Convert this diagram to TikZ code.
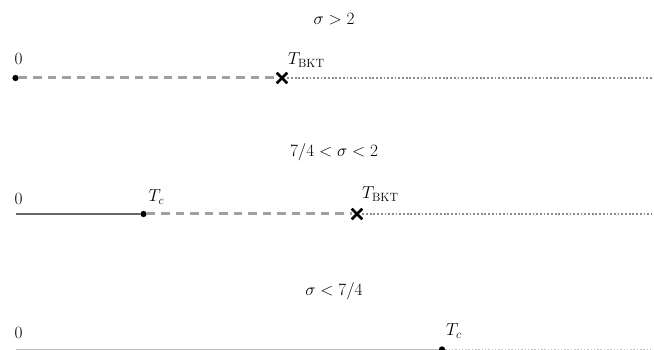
\documentclass[tikz,border=0pt]{standalone}
\usepackage{tikz}
\usepackage{amsmath}
\usetikzlibrary{positioning, shapes.misc}
\definecolor{ordgray}{HTML}{666666}
\definecolor{qlrogray}{HTML}{A0A0A0}
\definecolor{disgray}{HTML}{8C8C8C}
\definecolor{faintgray}{HTML}{BDBDBD}

\begin{document}
\begin{tikzpicture}[x=1pt, y=-1pt,
  tdot/.style={circle, fill=black, inner sep=0pt, minimum size=6.3pt},
  bkt/.style={cross out, draw=black, line width=2.6pt, inner sep=0pt,
    minimum size=8pt},
  lbl/.style={font=\LARGE, inner sep=0pt},
  head/.style={font=\LARGE, inner sep=0pt},
  ordered/.style={ordgray, line width=2.4pt},
  qlro/.style={qlrogray, line width=3pt, dash pattern=on 8.5pt off 6pt},
  disord/.style={disgray, line width=2.4pt, dash pattern=on 1.8pt off 1.9pt},
  faint/.style={faintgray, line width=1.4pt},
  faintdot/.style={faintgray, line width=1pt, dash pattern=on 1.5pt off 1.8pt}
]
\useasboundingbox (0,0) rectangle (654,350);

% ---- sigma > 2 ----
\node[head] (head1) at (334,19) {$\sigma > 2$};
\node[tdot] (start1) at (15.5,78) {};
\node[bkt] (bkt1) at (282,78) {};
\coordinate (end1) at (652,78);
\node[lbl, above right=13pt and -1pt of start1.center, anchor=base west] (zero1) {$0$};
\node[lbl, above right=13pt and 6pt of bkt1.center, anchor=base west] (tbkt1) {$T_{\mathrm{BKT}}$};

\draw[qlro] (start1) -- (bkt1);
\draw[disord] (bkt1) -- (end1);

% ---- 7/4 < sigma < 2 ----
\node[head] (head2) at (334,152) {$7/4 < \sigma < 2$};
\coordinate (start2) at (15.5,214);
\node[tdot] (tc2) at (143.5,214) {};
\node[bkt] (bkt2) at (357,214) {};
\coordinate (end2) at (652,214);
\node[lbl, above right=9pt and -1pt of start2, anchor=base west] (zero2) {$0$};
\node[lbl, above right=12pt and 5pt of tc2.center, anchor=base west] (tclab2) {$T_c$};
\node[lbl, above right=15pt and 5pt of bkt2.center, anchor=base west] (tbkt2) {$T_{\mathrm{BKT}}$};

\draw[ordered] (start2) -- (tc2);
\draw[qlro] (tc2) -- (bkt2);
\draw[disord] (bkt2) -- (end2);

% ---- sigma < 7/4 ----
\node[head] (head3) at (334,291) {$\sigma < 7/4$};
\coordinate (start3) at (15.5,349.5);
\node[tdot] (tc3) at (442,349.5) {};
\coordinate (end3) at (652,349.5);
\node[lbl, above right=11pt and -1pt of start3, anchor=base west] (zero3) {$0$};
\node[lbl, above right=14pt and 4pt of tc3.center, anchor=base west] (tclab3) {$T_c$};

\draw[faint] (start3) -- (tc3);
\draw[faintdot] (tc3) -- (end3);

\end{tikzpicture}
\end{document}
